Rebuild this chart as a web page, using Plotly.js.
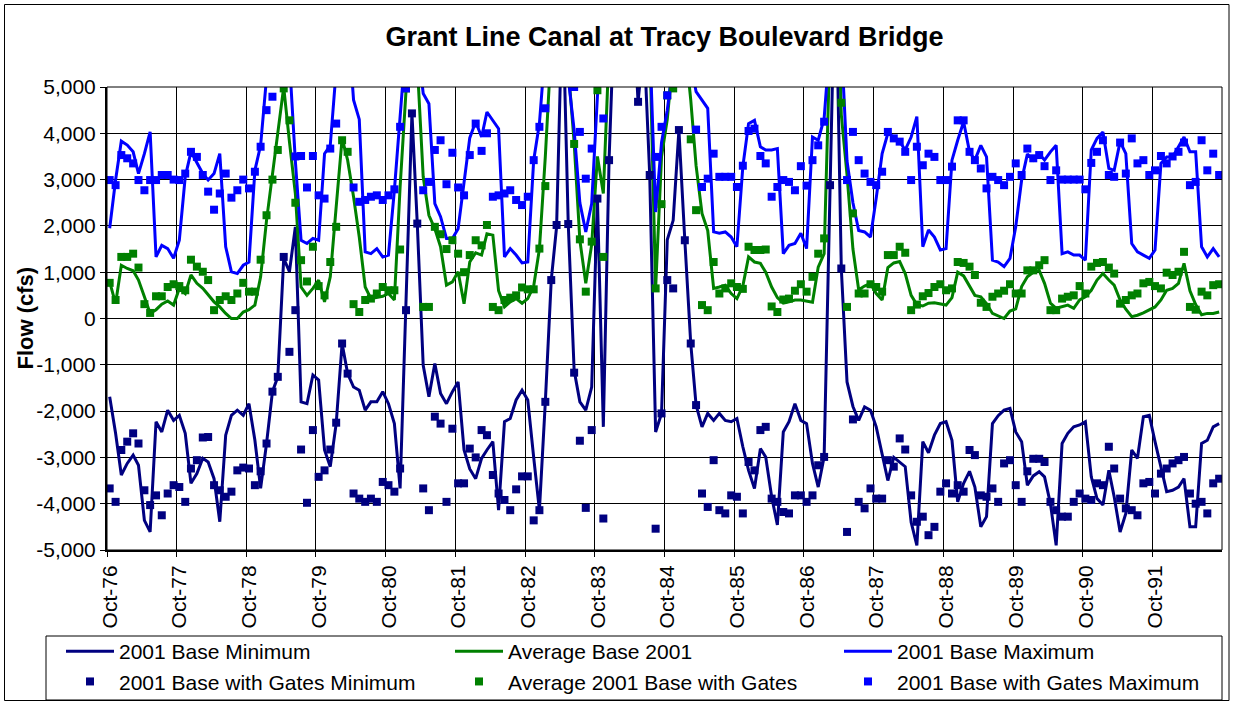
<!DOCTYPE html>
<html><head><meta charset="utf-8">
<script src="https://cdn.plot.ly/plotly-3.0.1.min.js"></script>
<style>html,body{margin:0;padding:0;background:#fff;}#chart{width:1233px;height:702px;}</style>
</head><body><div id="chart"></div>
<script>
// Monthly series, Oct-76 .. Sep-92 (192 months)
const startYear = 1976;
const startMonthIndex = 9; // October (0-based)

const baseMinimum = [
-1690,-2480,-3380,-3130,-2950,-3170,-4360,-4610,-2230,-2450,
-1980,-2200,-2090,-2480,-3560,-3350,-3020,-3100,-3460,-4390,
-2520,-2090,-1980,-2090,-1840,-2630,-3670,-2700,-1580,-1260,
1300,1010,1980,-1800,-1840,-1220,-1330,-2840,-3200,-2270,
-540,-1190,-1480,-1550,-1980,-1800,-1800,-1580,-1840,-2270,
-3670,220,4430,2050,-1010,-1690,-970,-1620,-1840,-1580,
-1370,-2840,-3250,-3460,-3020,-2840,-2660,-4140,-2230,-2160,
-1760,-1550,-1760,-3000,-4140,-1800,830,1980,7000,2050,
-1120,-1800,-1980,-1480,2590,-2340,3420,7000,9000,8000,
7000,4680,6000,3100,-2450,-2050,1700,2120,4070,1690,
-540,-1870,-2340,-2050,-2200,-2050,-2200,-2230,-2160,-2770,
-3280,-3670,-2810,-2990,-3850,-4460,-2450,-2230,-1840,-2200,
-2270,-3130,-3640,-2990,2880,8000,1080,-1370,-1900,-2200,
-1910,-1980,-2340,-2920,-3500,-3000,-3100,-3200,-4400,-4900,
-2660,-2900,-2520,-2270,-2230,-2630,-3960,-3560,-3300,-3640,
-4500,-4280,-2270,-2100,-1980,-1940,-2450,-2660,-3600,-3400,
-3310,-3420,-4000,-4900,-2700,-2480,-2340,-2300,-2230,-3420,
-3890,-4030,-3280,-3850,-4610,-4210,-2840,-3020,-2120,-2090,
-2660,-3200,-3740,-3710,-3640,-3460,-4500,-4500,-2700,-2630,
-2340,-2270];

const baseAverage = [
790,320,1150,1080,1030,830,470,110,190,310,
380,290,650,540,940,760,650,500,360,250,
110,0,0,140,190,290,900,2120,3130,4070,
5000,3820,2700,680,500,650,830,360,900,2410,
3890,3420,2630,1760,680,430,450,480,540,400,
2840,5400,7000,5500,3060,2230,1940,1550,720,790,
1010,320,1220,1420,1370,1830,1800,600,250,360,
430,330,430,700,1500,3500,6000,8000,7000,5500,
3800,1690,760,1600,3500,2700,7000,9000,9000,8000,
9000,8000,7000,6000,650,3500,4300,5500,7000,6000,
4720,3300,2270,1900,650,680,720,540,430,700,
1330,1220,1190,1000,680,450,330,360,400,400,
380,350,1110,1400,6000,9000,4400,3100,1500,620,
700,756,540,400,1100,1200,1230,970,500,300,
270,330,340,320,290,450,1000,920,700,500,
470,320,110,60,0,160,210,690,900,1000,
1040,760,330,220,250,290,220,400,470,610,
830,970,830,720,400,200,40,70,120,180,
250,400,610,650,760,1190,600,300,80,110,
110,140];

const baseMaximum = [
1950,2990,3830,3745,3600,3130,3560,4030,1330,1580,
1510,1300,1690,3060,3600,3380,3130,2990,3130,3560,
1550,1010,970,1150,1220,3200,3740,5200,6500,7500,
7000,5600,3400,1690,1620,1730,1690,3560,3740,5600,
7000,6500,4720,4300,1440,1400,1510,1330,1370,2770,
4210,6000,8000,6000,4860,4640,2480,2200,1730,1730,
1940,3000,3900,4250,3920,4460,4280,4100,1330,1510,
1370,1200,1220,3420,4210,6000,8000,9000,8000,5200,
4070,2500,1870,2480,4800,7000,9000,10000,9000,8000,
9000,8000,7000,6000,2300,3800,4500,5500,6500,6000,
5500,4900,4720,4540,1870,1840,1870,1760,1550,3280,
4210,4280,3710,3640,3640,3670,1400,1580,1620,1840,
1510,3920,3850,4320,6000,9000,6000,3400,2500,1900,
1870,1760,2600,3560,4000,3920,3820,3640,3920,4360,
1550,1910,1760,1480,1510,3420,3850,4250,3600,3420,
3740,3490,1260,1220,1120,1300,1980,2990,3550,3420,
3560,3420,3600,3740,1400,1440,1370,1370,1260,3640,
3890,4030,3240,3200,3820,3560,1620,1440,1370,1300,
1480,3350,3490,3490,3710,3920,3600,3600,1550,1330,
1510,1330];

const gatesMinimum = [
-3670,-3960,-2840,-2660,-2480,-2700,-3710,-4030,-3820,-4250,
-3780,-3600,-3640,-3960,-3240,-3060,-2570,-2560,-3600,-3710,
-3850,-3740,-3280,-3220,-3240,-3600,-3300,-2700,-1580,-1260,
1330,-720,180,-2830,-3980,-2410,-3420,-3280,-2830,-2250,
-540,-1190,-3780,-3890,-3960,-3890,-3960,-3530,-3600,-3740,
-3240,180,4430,2050,-3670,-4140,-2120,-2270,-3960,-2380,
-3560,-3560,-2810,-3000,-2410,-2520,-3380,-3780,-3920,-4140,
-3690,-3410,-3410,-4360,-4140,-1800,830,2020,6000,2040,
-1170,-2640,-4090,-2410,2590,-4320,3420,6000,6000,6000,
6000,4680,6000,3100,-4540,-2050,830,650,4070,1690,
-540,-1870,-3780,-4070,-3060,-4140,-4210,-3820,-3850,-4210,
-3100,-3280,-2410,-2340,-3890,-3960,-4180,-4210,-3820,-3820,
-3960,-3820,-3170,-2990,2880,6000,1080,-4610,-2180,-3960,
-4100,-3670,-3890,-3890,-3060,-3200,-2590,-2830,-3820,-4390,
-4280,-4680,-4500,-3740,-3560,-3780,-3600,-3740,-2840,-2950,
-3820,-3850,-3670,-3960,-3130,-3060,-3600,-3960,-3300,-3030,
-3030,-3100,-3960,-4140,-4280,-4280,-3960,-3780,-3890,-3920,
-3560,-3600,-2770,-3240,-3890,-4100,-4140,-4250,-3560,-3530,
-3780,-3350,-3240,-3130,-3060,-2990,-3780,-4000,-3960,-4210,
-3560,-3460];

const gatesAverage = [
770,400,1330,1330,1400,1100,310,120,480,480,
680,740,700,610,1270,1120,1010,830,180,400,
480,400,540,770,580,580,1270,2230,3000,3640,
4970,4280,2500,1260,800,1550,700,500,1220,1980,
3850,3600,310,140,400,430,540,680,610,610,
1490,4970,5500,5500,250,250,1980,1820,1500,1690,
1400,1000,1370,1690,1580,2020,250,180,400,450,
500,670,630,630,1510,2860,5500,6000,6000,5500,
3770,1710,580,1660,4930,1330,6000,6000,6000,6000,
6000,6000,6000,6000,650,2470,4820,4970,6000,6000,
3870,2340,290,180,1220,540,650,760,680,640,
1550,1480,1480,1490,260,140,410,430,600,740,
580,900,1400,1730,5500,6000,4660,250,2270,540,
540,740,680,580,1370,1370,1550,1420,180,300,
480,550,680,740,610,650,1220,1200,1120,940,
340,250,470,540,600,740,540,540,1040,1040,
1150,1260,180,180,430,470,500,700,540,1120,
1200,1220,1100,970,320,400,500,540,760,790,
700,650,990,940,1010,1440,250,190,580,500,
720,740];

const gatesMaximum = [
2990,2880,3530,3460,3350,2990,2770,2990,2990,3100,
3100,3000,2990,3130,3600,3490,3100,2740,2350,2700,
3130,2610,2770,3000,2810,3170,3710,4500,4790,5500,
6000,5500,3500,3510,2830,3510,2660,2590,3670,4210,
5500,5300,2830,2520,2560,2630,2660,2560,2660,2790,
4140,4970,5500,6000,2770,2950,3640,3850,2900,3580,
2830,2660,3530,4210,3620,4000,2630,2660,2700,2770,
2560,2450,2630,3420,4140,4540,6000,7000,6000,5500,
5000,4030,3020,3670,5500,4320,6000,6000,6000,6000,
6000,6000,6000,6000,3490,4140,4820,6000,6000,6000,
6000,4080,2840,3020,3560,3060,3060,3060,2840,3300,
4050,4100,3510,3350,2630,2840,2990,2950,2770,3290,
2870,3420,3740,4250,5500,6000,5500,2990,4030,3420,
3130,2950,2880,3170,4030,3890,3820,3600,2990,3710,
3310,3560,3490,2990,2990,3280,4280,4280,3600,3420,
3240,2810,3060,2990,2880,3060,3350,3100,3670,3460,
3530,3290,2990,3200,3000,3000,3000,3000,2790,3360,
3600,3850,3100,3060,3800,3130,3890,3350,3420,3100,
3200,3510,3350,3500,3600,3800,2880,2950,3850,3200,
3560,3100];

const seriesNames = [
  "2001 Base Minimum", "Average Base 2001", "2001 Base Maximum",
  "2001 Base with Gates Minimum", "Average 2001 Base with Gates", "2001 Base with Gates Maximum"
];
const yTickVals = [-5000,-4000,-3000,-2000,-1000,0,1000,2000,3000,4000,5000];
const yTickText = ["-5,000","-4,000","-3,000","-2,000","-1,000","0","1,000","2,000","3,000","4,000","5,000"];
const chartTitle = "Grant Line Canal at Tracy Boulevard Bridge";
const yTitle = "Flow (cfs)";

// month-centre dates for each sample
const months = baseMinimum.map((_, i) => new Date(Date.UTC(startYear, startMonthIndex + i, 15)).toISOString().slice(0, 10));

const NAVY = "#000080", GREEN = "#008000", BLUE = "#0000FF";
function lineTrace(y, name, color) {
  return {x: months, y: y, name: name, type: "scatter", mode: "lines",
          line: {color: color, width: 3}, hoverinfo: "skip"};
}
function markerTrace(y, name, color) {
  return {x: months, y: y, name: name, type: "scatter", mode: "markers",
          marker: {color: color, symbol: "square", size: 8}, hoverinfo: "skip"};
}
const data = [
  lineTrace(baseMinimum, seriesNames[0], NAVY),
  lineTrace(baseAverage, seriesNames[1], GREEN),
  lineTrace(baseMaximum, seriesNames[2], BLUE),
  markerTrace(gatesMinimum, seriesNames[3], NAVY),
  markerTrace(gatesAverage, seriesNames[4], GREEN),
  markerTrace(gatesMaximum, seriesNames[5], BLUE)
];

const W = 1233, H = 702, L = 107, R = 11, T = 87, B = 152;
const pw = W - L - R, ph = H - T - B;
const px = v => (v - L) / pw;
const py = v => (H - B - v) / ph;

const layout = {
  width: W, height: H,
  margin: {l: L, r: R, t: T, b: B, pad: 0, autoexpand: false},
  paper_bgcolor: "#fff", plot_bgcolor: "#fff",
  font: {family: "Liberation Sans, Arial, sans-serif", size: 21, color: "#000"},
  title: {text: "<b>" + chartTitle + "</b>",
          font: {size: 27, color: "#000"}, x: 0.5, xref: "paper",
          y: 1 - 37 / H, yref: "container", yanchor: "middle"},
  showlegend: true,
  xaxis: {type: "date", range: ["1976-10-01", "1992-09-30"],
          tick0: "1976-10-01", dtick: "M12", tickformat: "%b-%y", tickangle: -90,
          showgrid: true, gridcolor: "#000", gridwidth: 1,
          showline: true, linecolor: "#000", linewidth: 2,
          ticks: "outside", ticklen: 5, tickcolor: "#000", tickwidth: 1,
          ticklabelshift: 3,
          tickfont: {size: 21}, zeroline: false, automargin: false},
  yaxis: {range: [-5000, 5000], tickvals: yTickVals, ticktext: yTickText,
          showgrid: true, gridcolor: "#000", gridwidth: 1, zeroline: false,
          showline: true, linecolor: "#000", linewidth: 2,
          ticks: "outside", ticklen: 5, tickcolor: "#000", tickwidth: 1,
          tickfont: {size: 21}, automargin: false},
  legend: {orientation: "h", x: px(61), xanchor: "left", y: py(631), yanchor: "top",
           bgcolor: "rgba(0,0,0,0)", borderwidth: 0,
           itemwidth: 48, entrywidth: 326, font: {size: 21}, traceorder: "normal"},
  annotations: [
    {text: "<b>" + yTitle + "</b>", xref: "paper", yref: "paper", x: px(25), y: 0.5,
     xanchor: "center", yanchor: "middle", textangle: -90, showarrow: false,
     font: {size: 22, color: "#000"}}
  ],
  shapes: [
    {type: "rect", xref: "paper", yref: "paper", x0: 0, x1: 1, y0: 0, y1: 1,
     line: {color: "#000", width: 1}, fillcolor: "rgba(0,0,0,0)"},
    {type: "rect", xref: "paper", yref: "paper", x0: px(46), x1: px(1222), y0: py(700), y1: py(636),
     line: {color: "#000", width: 1}, fillcolor: "rgba(0,0,0,0)"},
    {type: "rect", xref: "paper", yref: "paper", x0: px(4.5), x1: px(1229), y0: py(700.5), y1: py(4.5),
     line: {color: "#000", width: 1}, fillcolor: "rgba(0,0,0,0)"}
  ]
};

Plotly.newPlot("chart", data, layout, {staticPlot: true, displayModeBar: false});
</script>
</body></html>
